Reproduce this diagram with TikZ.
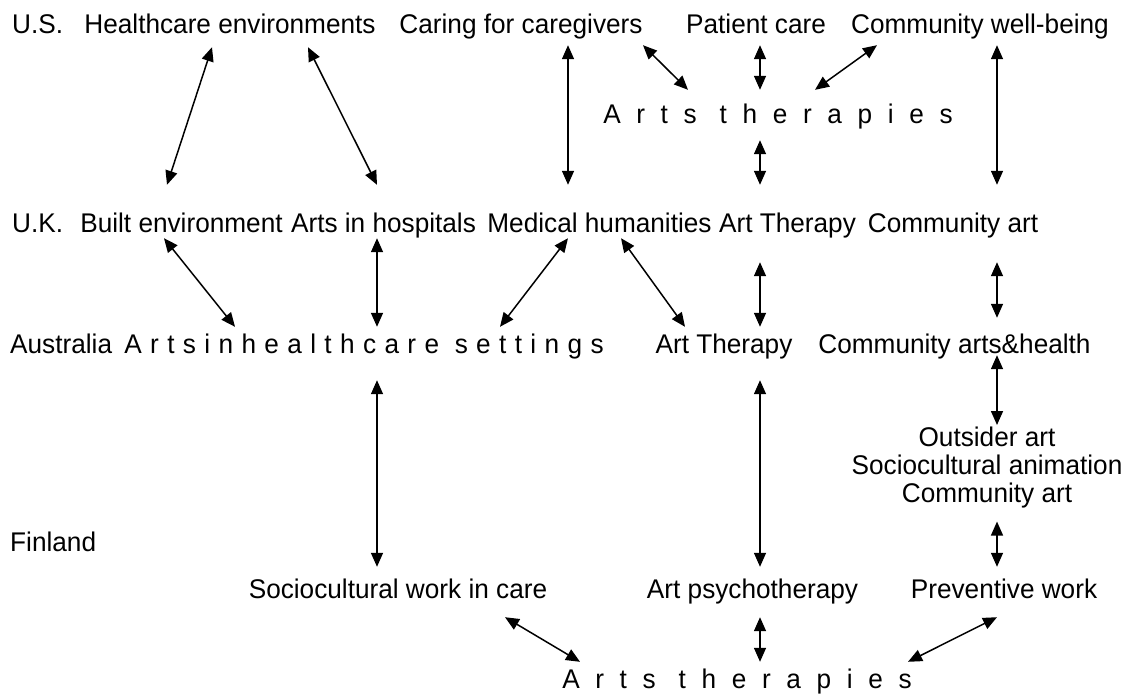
\documentclass[tikz,border=0pt]{standalone}
\usepackage{fontspec}
\setmainfont{Liberation Sans}[FakeStretch=0.97]
\newfontfamily\trackedfont{Liberation Sans}[FakeStretch=0.97,LetterSpace=58]
\newfontfamily\trackedfontb{Liberation Sans}[FakeStretch=0.97,LetterSpace=31]
\usetikzlibrary{arrows.meta}

\tikzset{
  lbl/.style={anchor=base, inner sep=0pt, text height=20pt, text depth=6pt,
              font=\fontsize{27}{28}\selectfont},
  country/.style={lbl, anchor=base west},
  bi/.style={<->, line width=1.5pt},
}

\begin{document}
\begin{tikzpicture}[x=1pt,y=-1pt,>={Triangle[length=14pt,width=12pt]}]
  \useasboundingbox (0,0) rectangle (1121,697);
  % U.S.
  \node[country] (us) at (12,33) {U.S.};
  \node[lbl] (he) at (230,33) {Healthcare environments};
  \node[lbl] (cg) at (521,33) {Caring for caregivers};
  \node[lbl] (pc) at (756,33) {Patient care};
  \node[lbl] (cw) at (980,33) {Community well-being};
  \node[lbl,font=\fontsize{27}{28}\trackedfont] (atus) at (778,123) {Arts therapies};
  % U.K.
  \node[country] (uk) at (12,232) {U.K.};
  \node[lbl] (be) at (181.5,232) {Built environment};
  \node[lbl] (ah) at (383.5,232) {Arts in hospitals};
  \node[lbl] (mh) at (599.5,232) {Medical humanities};
  \node[lbl] (ukat) at (787.5,232) {Art Therapy};
  \node[lbl] (ca) at (953,232) {Community art};
  % Australia
  \node[country] (au) at (10,353) {Australia};
  \node[lbl,font=\fontsize{27}{28}\trackedfontb] (ahs) at (364,353) {Artsinhealthcare settings};
  \node[lbl] (auat) at (724,353) {Art Therapy};
  \node[lbl] (cah) at (954.5,353) {Community arts\&health};
  \node[anchor=north, inner sep=0pt, align=center, font=\fontsize{27}{28}\selectfont]
    (os) at (987,427) {Outsider art\\Sociocultural animation\\Community art};
  % Finland
  \node[country] (fi) at (10,551) {Finland};
  \node[lbl] (swc) at (398,598) {Sociocultural work in care};
  \node[lbl] (aps) at (752.5,598) {Art psychotherapy};
  \node[lbl] (pw) at (1004,598) {Preventive work};
  \node[lbl,font=\fontsize{27}{28}\trackedfont] (atfi) at (737,688) {Arts therapies};

  % U.S. links
  \draw[bi] ([xshift=-18pt,yshift=-8pt]he.south) -- ([xshift=-14.5pt,yshift=27pt]be.north);
  \draw[bi] ([xshift=78pt,yshift=-8pt]he.south) -- ([xshift=-6.5pt,yshift=27pt]ah.north);
  \draw[bi] ([xshift=47pt,yshift=-6pt]cg.south) -- ([xshift=-31.5pt,yshift=27pt]mh.north);
  \draw[bi] ([xshift=122pt,yshift=-6pt]cg.south) -- ([xshift=-90pt,yshift=13pt]atus.north);
  \draw[bi] ([xshift=4pt,yshift=-6pt]pc.south) -- ([xshift=-18pt,yshift=13pt]atus.north);
  \draw[bi] ([xshift=-103pt,yshift=-6pt]cw.south) -- ([xshift=37pt,yshift=13pt]atus.north);
  \draw[bi] ([xshift=17pt,yshift=-6pt]cw.south) -- ([xshift=44pt,yshift=27pt]ca.north);
  \draw[bi] ([xshift=-18pt,yshift=-11pt]atus.south) -- ([xshift=-27.5pt,yshift=27pt]ukat.north);
  % U.K. to Australia
  \draw[bi] ([xshift=-17.5pt]be.south) -- ([xshift=-129pt,yshift=6pt]ahs.north);
  \draw[bi] ([xshift=-6.5pt]ah.south) -- ([xshift=13pt,yshift=6pt]ahs.north);
  \draw[bi] ([xshift=-31.5pt]mh.south) -- ([xshift=136pt,yshift=6pt]ahs.north);
  \draw[bi] ([xshift=21.5pt]mh.south) -- ([xshift=-39pt,yshift=6pt]auat.north);
  \draw[bi] ([xshift=-27.5pt,yshift=-24pt]ukat.south) -- ([xshift=36pt,yshift=6pt]auat.north);
  \draw[bi] ([xshift=44pt,yshift=-24pt]ca.south) -- ([xshift=42.5pt,yshift=15pt]cah.north);
  % Australia to Finland
  \draw[bi] ([xshift=42.5pt,yshift=4pt]cah.south) -- ([xshift=10pt,yshift=2pt]os.north);
  \draw[bi] ([xshift=13pt,yshift=-21pt]ahs.south) -- ([xshift=-21pt,yshift=11pt]swc.north);
  \draw[bi] ([xshift=36pt,yshift=-21pt]auat.south) -- ([xshift=7.5pt,yshift=11pt]aps.north);
  \draw[bi] ([xshift=10pt,yshift=-13pt]os.south) -- ([xshift=-7pt,yshift=11pt]pw.north);
  % Finland
  \draw[bi] ([xshift=107pt,yshift=-13pt]swc.south) -- ([xshift=-157pt,yshift=6pt]atfi.north);
  \draw[bi] ([xshift=7.5pt,yshift=-13pt]aps.south) -- ([xshift=23pt,yshift=6pt]atfi.north);
  \draw[bi] ([xshift=-7pt,yshift=-13pt]pw.south) -- ([xshift=171pt,yshift=6pt]atfi.north);
\end{tikzpicture}
\end{document}
